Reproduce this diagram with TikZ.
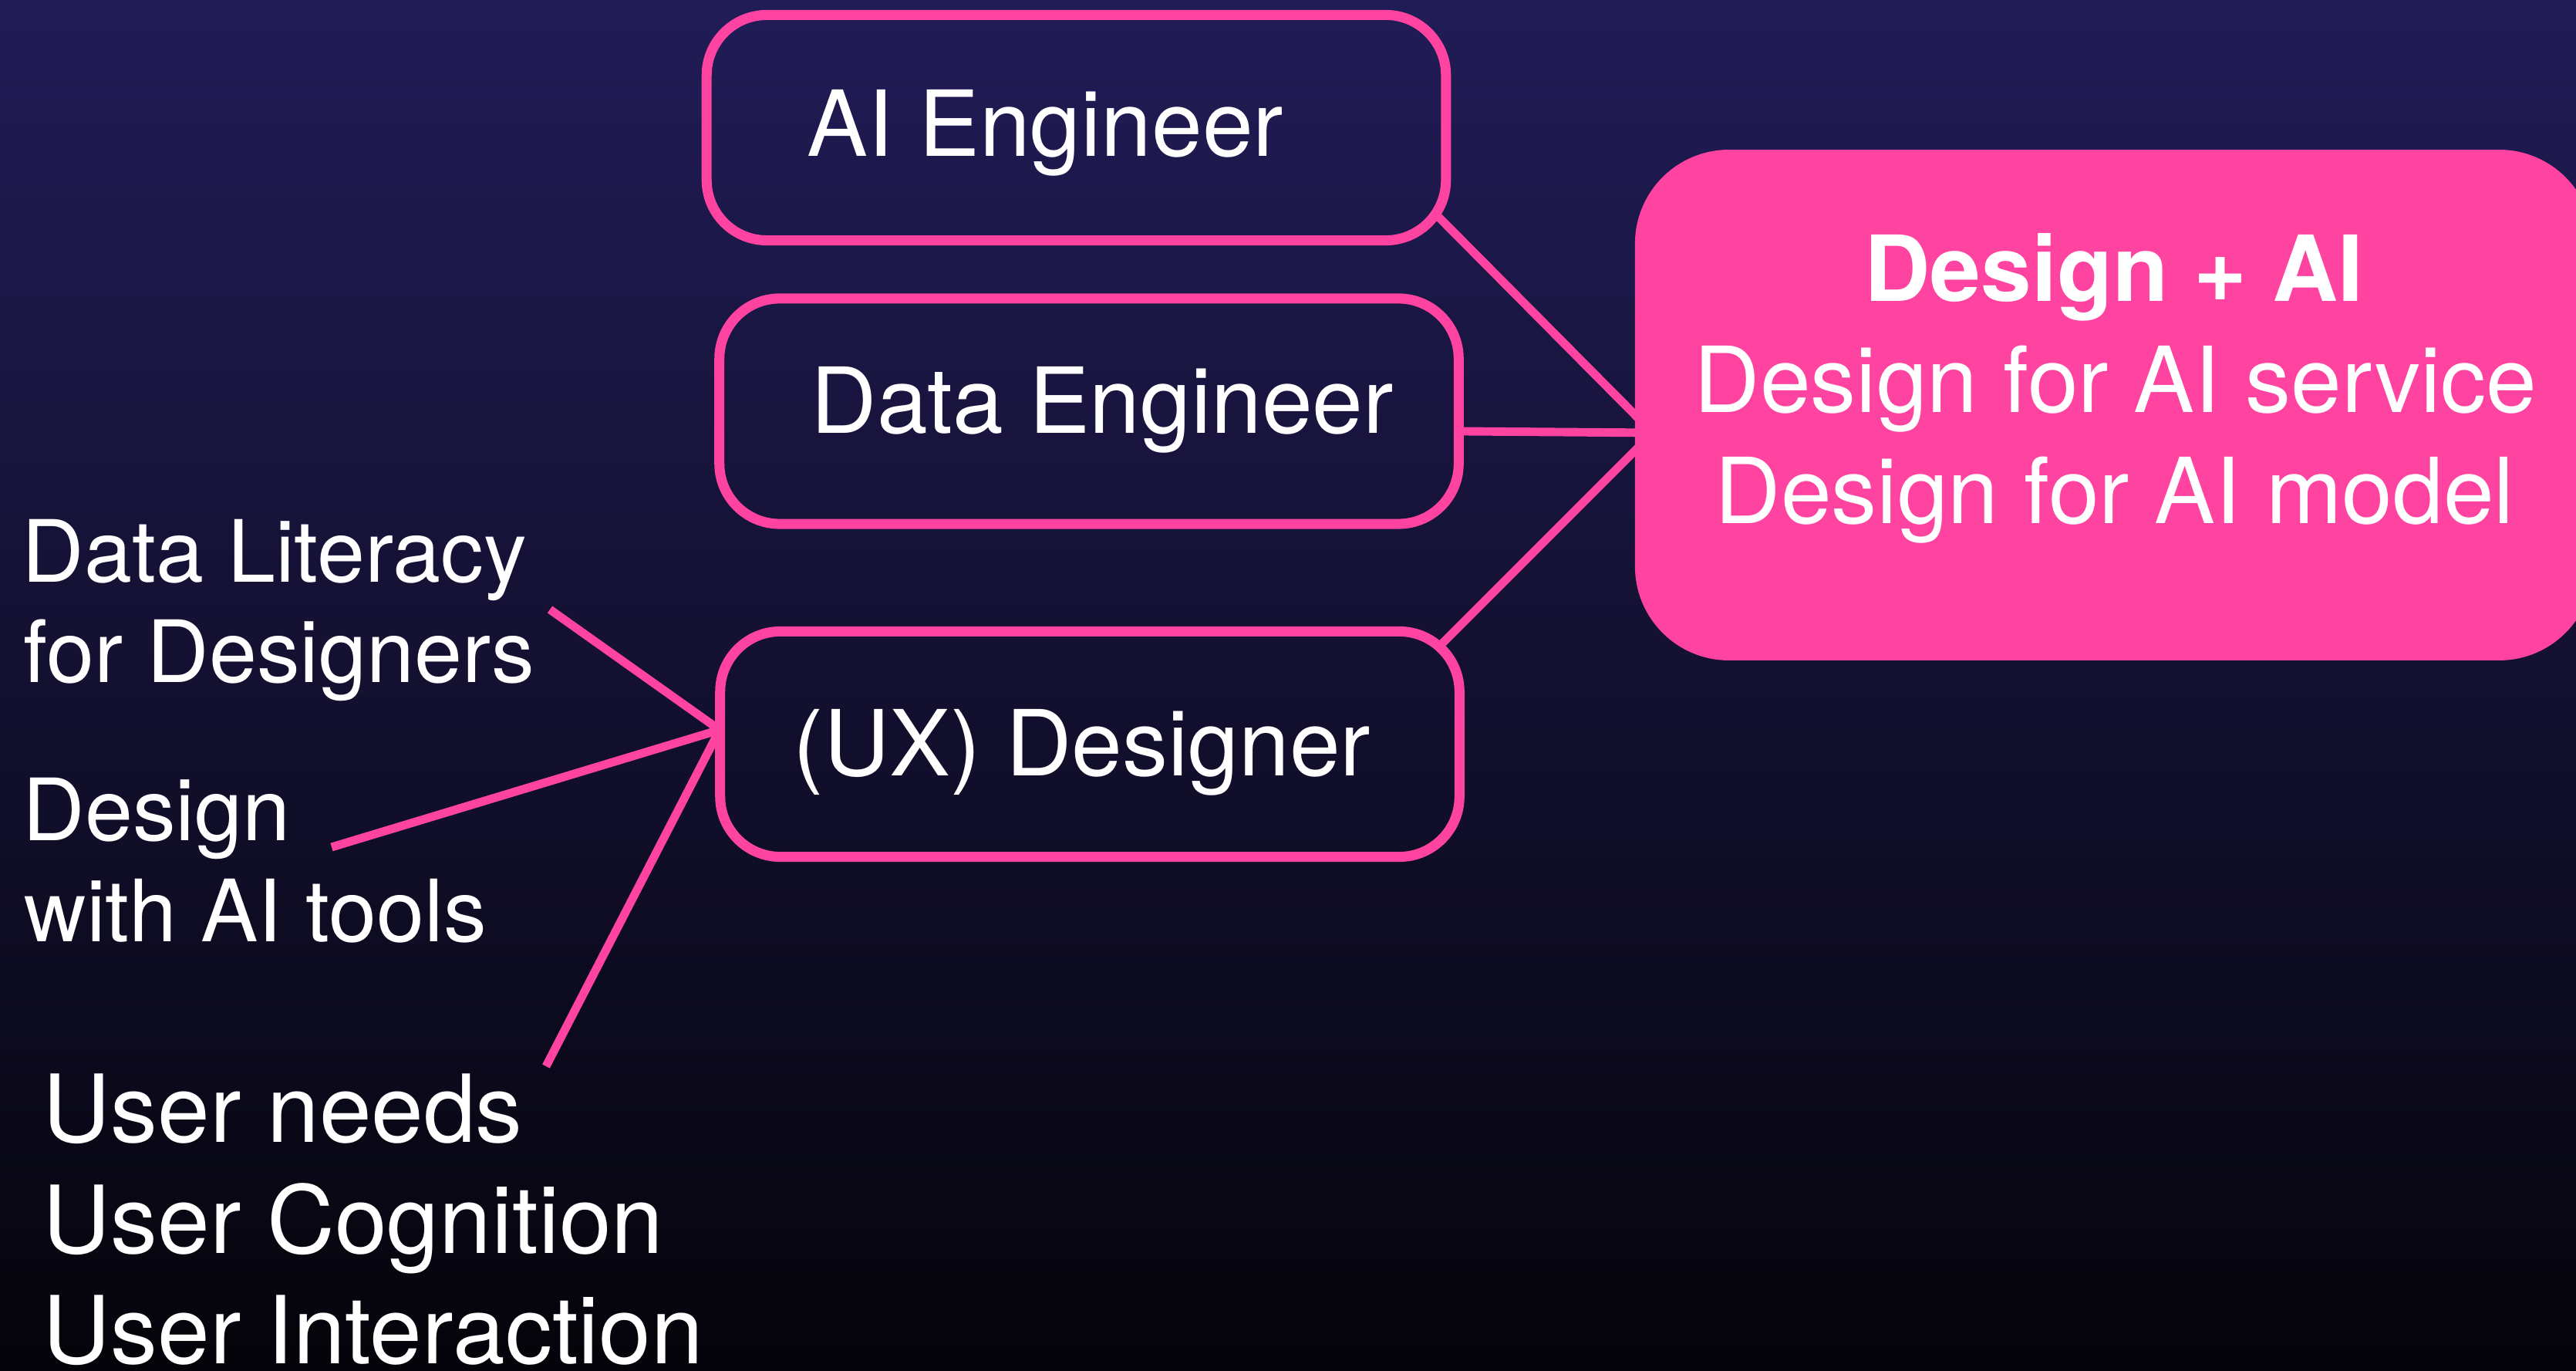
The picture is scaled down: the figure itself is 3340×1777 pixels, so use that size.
\documentclass[tikz,border=0pt]{standalone}
\usepackage{fontspec}
\setmainfont{TeX Gyre Heros}
\definecolor{hotpink}{RGB}{255,67,161}
\definecolor{bgtop}{RGB}{33,28,86}
\definecolor{bgbottom}{RGB}{5,4,10}
\tikzset{
  rolebox/.style={draw=hotpink, line width=3.7pt, rounded corners=0.78cm,
                  inner sep=0pt, minimum width=9.58cm, minimum height=2.92cm},
  goalbox/.style={draw=hotpink, fill=hotpink, line width=1pt, rounded corners=1.2cm,
                  inner sep=0pt},
  link/.style={draw=hotpink, line width=3.1pt},
  bigtxt/.style={text=white, inner sep=0pt, font=\fontsize{33.6}{40}\selectfont},
  usertxt/.style={text=white, inner sep=0pt, font=\fontsize{34.6}{41}\selectfont},
  smalltxt/.style={text=white, inner sep=0pt, font=\fontsize{31.7}{38}\selectfont},
}
\begin{document}
\begin{tikzpicture}[x=0.01cm, y=-0.01cm]
  % canvas with a vertical indigo-to-black gradient
  \useasboundingbox (0,0) rectangle (3340,1777);
  \clip (0,0) rectangle (3340,1777);
  \shade[top color=bgtop, bottom color=bgbottom] (0,0) rectangle (3340,1777);

  % role boxes
  \node[rolebox] (ai)   at (1395.5,165.5) {};
  \node[rolebox] (data) at (1412,533) {};
  \node[rolebox] (ux)   at (1413,964.5) {};

  % connection points
  \coordinate (aiout)   at (1862,278);
  \coordinate (dataout) at (1897,559);
  \coordinate (uxout)   at (1867,837);
  \coordinate (goalhub) at (2143,561);
  \coordinate (uxhub)   at (933,946);
  \coordinate (litend)  at (713,790);
  \coordinate (toolend) at (430,1098);
  \coordinate (userend) at (708,1382);

  % links into the Design + AI box
  \draw[link] (aiout) -- (goalhub);
  \draw[link] (dataout) -- (goalhub);
  \draw[link] (uxout) -- (goalhub);

  % links from the designer skills
  \draw[link] (litend) -- (uxhub);
  \draw[link] (toolend) -- (uxhub);
  \draw[link] (userend) -- (uxhub);

  % goal box
  \node[goalbox, minimum width=12.38cm, minimum height=6.58cm] (goal) at (2741,525) {};

  % role labels
  \node[bigtxt, anchor=base west] (aitxt)   at (1046,203) {AI Engineer};
  \node[bigtxt, anchor=base west] (datatxt) at (1051,562) {Data Engineer};
  \node[bigtxt, anchor=base west] (uxtxt)   at (1028,1006) {(UX) Designer};

  % goal labels
  \node[bigtxt, anchor=base, font=\fontsize{33.6}{40}\selectfont\bfseries] (goal1) at (2741,391) {Design + AI};
  \node[bigtxt, anchor=base] (goal2) at (2743,535) {Design for AI service};
  \node[bigtxt, anchor=base] (goal3) at (2742,679) {Design for AI model};

  % skill labels
  \node[smalltxt, anchor=base west] (lit1)  at (28,755)  {Data Literacy};
  \node[smalltxt, anchor=base west] (lit2)  at (30,885)  {for Designers};
  \node[smalltxt, anchor=base west] (tool1) at (29,1090) {Design};
  \node[smalltxt, anchor=base west] (tool2) at (31,1220) {with AI tools};
  \node[usertxt, anchor=base west] (user1) at (55,1480) {User needs};
  \node[usertxt, anchor=base west] (user2) at (55,1624) {User Cognition};
  \node[usertxt, anchor=base west] (user3) at (55,1767) {User Interaction};
\end{tikzpicture}
\end{document}
